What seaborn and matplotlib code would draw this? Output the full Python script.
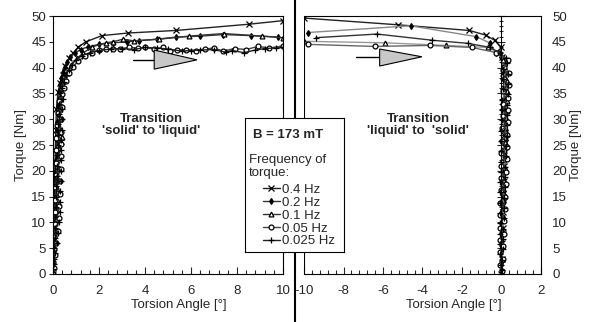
import seaborn as sns
import matplotlib.pyplot as plt
import numpy as np
import pandas as pd
from matplotlib.ticker import MultipleLocator
from matplotlib.patches import Polygon
from matplotlib.lines import Line2D

sns.set_style('ticks')
plt.rcParams['font.family'] = ['Liberation Sans', 'DejaVu Sans']
plt.rcParams['axes.unicode_minus'] = False
plt.rcParams['axes.edgecolor'] = 'black'

# frequencies of torque
freqs = ['0.4 Hz', '0.2 Hz', '0.1 Hz', '0.05 Hz', '0.025 Hz']
markers = ['x', 'd', '^', 'o', '+']
faces = ['white', 'black', 'white', 'white', 'white']
colors = ['#222222', '#333333', '#333333', '#444444', '#222222']
colors_r = ['#222222', '#888888', '#999999', '#666666', '#333333']

# left panel : transition 'solid' to 'liquid'
l04_x = [0, 0.02, 0.03, 0.05, 0.06, 0.08, 0.1, 0.12, 0.15, 0.22, 0.3, 0.43, 0.52, 0.7, 0.87, 1.1, 1.43, 2.13, 3.26, 5.35, 8.5, 10]
l04_y = [0, 4, 8, 12, 16, 20, 24, 28, 32, 35.3, 37, 38.6, 40.3, 41.8, 42.8, 44, 45, 46.2, 46.7, 47.2, 48.4, 49.1]

l02_x = [0, 0.01, 0.03, 0.04, 0.06, 0.07, 0.09, 0.1, 0.11, 0.13, 0.14, 0.15, 0.17, 0.18, 0.19, 0.2, 0.22, 0.24, 0.27, 0.31,
         0.36, 0.42, 0.5, 0.6, 0.75, 0.95, 1.2, 1.5, 2.0, 2.6, 3.2, 3.75, 4.5, 5.35, 6.4, 7.4, 8.6, 9.8]
l02_y = [0, 2, 4.5, 7, 9, 11.5, 13.5, 16, 18, 20, 22, 24, 26, 28, 29.5, 31, 32.5, 34, 35.5, 36.8,
         38, 39.2, 40.2, 41, 42, 42.8, 43.5, 44, 44.5, 44.8, 45, 45.2, 45.5, 45.9, 46.1, 46.4, 46.2, 45.9]

l01_x = [0, 0.02, 0.03, 0.05, 0.06, 0.08, 0.1, 0.12, 0.14, 0.17, 0.21, 0.26, 0.33, 0.38, 0.34, 0.3, 0.3, 0.31, 0.35, 0.45,
         0.6, 0.8, 1.05, 1.3, 1.7, 2.3, 2.6, 3.04, 3.5, 4.6, 5.9, 7.43, 9.1, 10]
l01_y = [0, 2.5, 5, 7.5, 10, 12.5, 15, 17, 19, 21, 23, 24.5, 25.5, 26.5, 28, 30, 32, 34, 36, 37.5,
         39, 40.5, 41.8, 42.8, 44, 44.8, 45, 45.5, 45.2, 45.5, 46.1, 46.6, 46.1, 45.8]

l005_x = [0, 0.06, 0.02, 0.1, 0.04, 0.14, 0.05, 0.2, 0.07, 0.25, 0.08, 0.28, 0.1, 0.3, 0.1, 0.32, 0.12, 0.33, 0.12, 0.34,
          0.14, 0.34, 0.15, 0.35, 0.17, 0.36, 0.2, 0.37, 0.24, 0.4, 0.46,
          0.56, 0.7, 0.88, 1.1, 1.4, 1.7, 2.0, 2.3, 2.6, 2.9, 3.3, 3.7, 4.0, 4.4, 4.8,
          5.1, 5.4, 5.8, 6.2, 6.6, 7.0, 7.4, 7.9, 8.4, 8.9, 9.4, 10]
l005_y = [0, 1.2, 2.4, 3.6, 4.8, 6, 7.2, 8.4, 9.6, 10.8, 12, 13.2, 14.4, 15.6, 16.8, 18, 19.2, 20.4, 21.6, 22.8,
          24, 25.2, 26.4, 27.6, 28.8, 30, 31.2, 32.4, 33.6, 34.8, 36,
          37.5, 39, 40.2, 41.3, 42.2, 42.9, 43.5, 43.6, 43.6, 43.7, 43.9, 43.8, 43.9, 43.6, 43.9,
          43.2, 43.4, 43.5, 43.3, 43.6, 43.8, 43.2, 43.7, 43.5, 44.1, 43.8, 44.2]

l0025_x = [0.02, 0, 0.06, 0.03, 0.1, 0.05, 0.16, 0.07, 0.22, 0.09, 0.26, 0.1, 0.29, 0.12, 0.3, 0.13, 0.31, 0.15, 0.33, 0.16,
           0.34, 0.18, 0.35, 0.19, 0.35, 0.2, 0.36, 0.22, 0.37, 0.23, 0.38, 0.25, 0.4, 0.28, 0.42, 0.32, 0.38,
           0.46, 0.56, 0.68, 0.82, 0.98, 1.25, 1.6,
           2.0, 2.5, 3.0, 3.5, 4.0, 4.5, 5.0, 5.6, 6.0, 6.4, 7.0, 7.5, 7.8, 8.3, 8.8, 9.2, 9.7, 10]
l0025_y = [0, 1, 2, 3, 4, 5, 6, 7, 8, 9, 10, 11, 12, 13, 14, 15, 16, 17, 18, 19,
           20, 21, 22, 23, 24, 25, 26, 27, 28, 29, 30, 31, 32, 33, 34, 35, 36,
           37.3, 38.5, 39.6, 40.6, 41.5, 42.3, 42.9,
           43.3, 43.6, 43.7, 43.5, 43.9, 43.8, 43.6, 43.2, 43.3, 43.4, 43.5, 43.0, 43.3, 42.9, 43.4, 43.7, 43.8, 43.9]

# right panel : transition 'liquid' to 'solid'
r04_x = [-10, -5.26, -1.63, -0.8, -0.35, -0.05, 0.05, 0.1, 0.12, 0.14, 0.15, 0.15, 0.14, 0.13, 0.12, 0.1, 0.08, 0.06, 0.04, 0.02, 0]
r04_y = [49.6, 48.3, 47.2, 46.3, 45.3, 44, 42, 39, 36, 33, 30, 27, 24, 21, 18, 15, 12, 9, 6, 3, 0]

r02_x = [-9.8, -4.6, -1.28, -0.6, -0.26, 0.0, 0.12, 0.2, 0.22, 0.24, 0.25, 0.24, 0.23, 0.22, 0.2, 0.19, 0.17, 0.15, 0.13, 0.11,
         0.09, 0.07, 0.05, 0.03, 0.01]
r02_y = [46.8, 48.1, 46, 44.8, 42.9, 42, 40, 38, 36, 34, 32, 30, 28, 26, 24, 22, 20, 18, 16, 14, 11, 8, 5, 2.5, 0]

r01_x = [-10, -5.9, -2.8, -0.7, -0.2, 0.1, 0.25, 0.3, 0.28, 0.27, 0.26, 0.24, 0.22, 0.2, 0.18, 0.16, 0.14, 0.12, 0.1, 0.08,
         0.06, 0.04, 0.02, 0]
r01_y = [45.1, 44.8, 44.3, 43.9, 43, 41.5, 39.5, 37.5, 35.5, 33.5, 31.5, 29.5, 27.5, 25.5, 23, 20.5, 18, 15.5, 13, 10.5,
         8, 5.5, 3, 0]

r005_x = [-9.8, -6.4, -3.6, -1.5, -0.26,
          0.35, 0.15, 0.38, 0.12, 0.36, 0.1, 0.34, 0.08, 0.33, 0.06, 0.31, 0.04, 0.3, 0.02, 0.28,
          0.0, 0.27, -0.02, 0.25, -0.03, 0.23, -0.05, 0.2, -0.06, 0.18, -0.08, 0.15, -0.09, 0.12, -0.1,
          0.1, -0.1, 0.06, -0.08, 0.02]
r005_y = [44.5, 44.1, 44.3, 43.9, 42.9,
          41.5, 40.2, 39, 37.8, 36.6, 35.4, 34.2, 33, 31.8, 30.6, 29.4, 28.2, 27, 25.8, 24.6,
          23.4, 22.2, 21, 19.8, 18.6, 17.4, 16.2, 15, 13.8, 12.6, 11.4, 10.2, 9, 7.8, 6.6,
          5.4, 4.2, 3, 1.8, 0.6]

r0025_x = [-9.4, -6.3, -3.5, -1.7, -0.56, -0.1,
           0.25, 0.3, 0.1, 0.35, 0.08, 0.33, 0.06, 0.32, 0.05, 0.3,
           0.03, 0.29, 0.02, 0.27, 0.0, 0.26, -0.01, 0.24, -0.03, 0.22,
           -0.04, 0.2, -0.05, 0.19, -0.06, 0.17, -0.07, 0.15, -0.08, 0.13,
           -0.09, 0.11, -0.1, 0.1, -0.1, 0.08, -0.1, 0.06, -0.08, 0.04,
           -0.05, 0.02, 0]
r0025_y = [45.8, 46.5, 45.3, 44.7, 43.9, 42.8,
           41.8, 40.8, 39.8, 38.8, 37.8, 36.8, 35.8, 34.8, 33.8, 32.8,
           31.8, 30.8, 29.8, 28.8, 27.8, 26.8, 25.8, 24.8, 23.8, 22.8,
           21.8, 20.8, 19.8, 18.8, 17.8, 16.8, 15.8, 14.8, 13.8, 12.8,
           11.8, 10.8, 9.8, 8.8, 7.8, 6.8, 5.8, 4.8, 3.8, 2.8,
           1.8, 0.8, 0]

left = [(l04_x, l04_y), (l02_x, l02_y), (l01_x, l01_y), (l005_x, l005_y), (l0025_x, l0025_y)]
right = [(r04_x, r04_y), (r02_x, r02_y), (r01_x, r01_y), (r005_x, r005_y), (r0025_x, r0025_y)]

W, H = 595, 322
fig = plt.figure(figsize=(W / 100, H / 100), dpi=100)
axL = fig.add_axes([53 / W, 1 - 274 / H, 230 / W, 258 / H])
axR = fig.add_axes([304 / W, 1 - 274 / H, 237 / W, 258 / H])

msize = {'x': 4, 'd': 3, '^': 3.5, 'o': 3.5, '+': 4.5}

for i, f in enumerate(freqs):
    for ax, data, cols in [(axL, left, colors), (axR, right, colors_r)]:
        xs, ys = data[i]
        sns.lineplot(x=xs, y=ys, ax=ax, sort=False, estimator=None, legend=False,
                     color=cols[i], lw=1.0, marker=markers[i], ms=msize[markers[i]],
                     markeredgecolor='black', markerfacecolor=faces[i], markeredgewidth=0.9,
                     label=f)

fs = 9.5
for ax in [axL, axR]:
    ax.set_ylim(0, 50)
    ax.yaxis.set_major_locator(MultipleLocator(5))
    ax.xaxis.set_major_locator(MultipleLocator(2))
    ax.xaxis.set_minor_locator(MultipleLocator(0.4))
    ax.tick_params(axis='x', which='major', direction='in', length=5, width=0.8, labelsize=fs, pad=8)
    ax.tick_params(axis='x', which='minor', direction='in', length=3, width=0.8)
    for s in ax.spines.values():
        s.set_linewidth(0.8)
    ax.set_xlabel('Torsion Angle [°]', fontsize=fs)
    ax.set_ylabel('Torque [Nm]', fontsize=fs)

axL.set_xlim(0, 10)
axL.tick_params(axis='y', direction='out', length=3, width=0.8, labelsize=fs, pad=2)
axL.xaxis.set_label_coords(0.548, -0.095)
axL.yaxis.set_label_coords(-0.113, 0.5)

axR.set_xlim(-10, 2)
axR.spines['left'].set_position(('data', 0))
axR.axvline(-10, color='black', lw=0.8)
axR.yaxis.set_minor_locator(MultipleLocator(1))
axR.tick_params(axis='y', which='major', direction='inout', left=True, right=False,
                labelleft=False, labelright=True, length=6, width=0.8, labelsize=fs, pad=5)
axR.tick_params(axis='y', which='minor', direction='inout', left=True, right=False, length=3, width=0.8)
axR.yaxis.set_label_position('right')
axR.xaxis.set_label_coords(0.633, -0.095)
axR.yaxis.set_label_coords(1.122, 0.5)

# direction arrows
axL.plot([3.48, 4.4], [41.5, 41.5], color='black', lw=1)
axL.add_patch(Polygon([[4.4, 43.4], [4.4, 39.7], [6.26, 41.5]], closed=True,
                      facecolor='#c8c8c8', edgecolor='black', lw=0.8, zorder=4))
axR.plot([-7.35, -6.17], [42.1, 42.1], color='black', lw=1)
axR.add_patch(Polygon([[-6.17, 43.6], [-6.17, 40.3], [-4.03, 42.1]], closed=True,
                      facecolor='#c8c8c8', edgecolor='black', lw=0.8, zorder=4))

axL.text(0.426, 0.578, "Transition\n'solid' to 'liquid'", transform=axL.transAxes,
         ha='center', va='center', fontsize=fs, fontweight='bold', linespacing=1.05)
axR.text(0.481, 0.578, "Transition\n'liquid' to  'solid'", transform=axR.transAxes,
         ha='center', va='center', fontsize=fs, fontweight='bold', linespacing=1.05)

# divider between the two panels
fig.add_artist(Line2D([295 / W, 295 / W], [0, 1], transform=fig.transFigure, color='black', lw=1.5))

# box with field and legend
lax = fig.add_axes([245 / W, 1 - 252 / H, 99 / W, 134 / H])
lax.set_zorder(10)
lax.set_facecolor('white')
lax.set_xticks([])
lax.set_yticks([])
for s in lax.spines.values():
    s.set_linewidth(0.8)
    s.set_visible(True)
lax.text(0.44, 0.873, 'B = 173 mT', ha='center', va='center', fontsize=fs, fontweight='bold')
lax.text(0.04, 0.64, 'Frequency of\ntorque:', ha='left', va='center', fontsize=fs, linespacing=1.15)
handles, labels = axL.get_legend_handles_labels()
lax.legend(handles, labels, loc='upper left', bbox_to_anchor=(0.18, 0.51), frameon=False,
           handlelength=1.3, handletextpad=0.15, labelspacing=0.05, borderaxespad=0, borderpad=0,
           fontsize=fs)

fig.savefig('out.png', dpi=100)
